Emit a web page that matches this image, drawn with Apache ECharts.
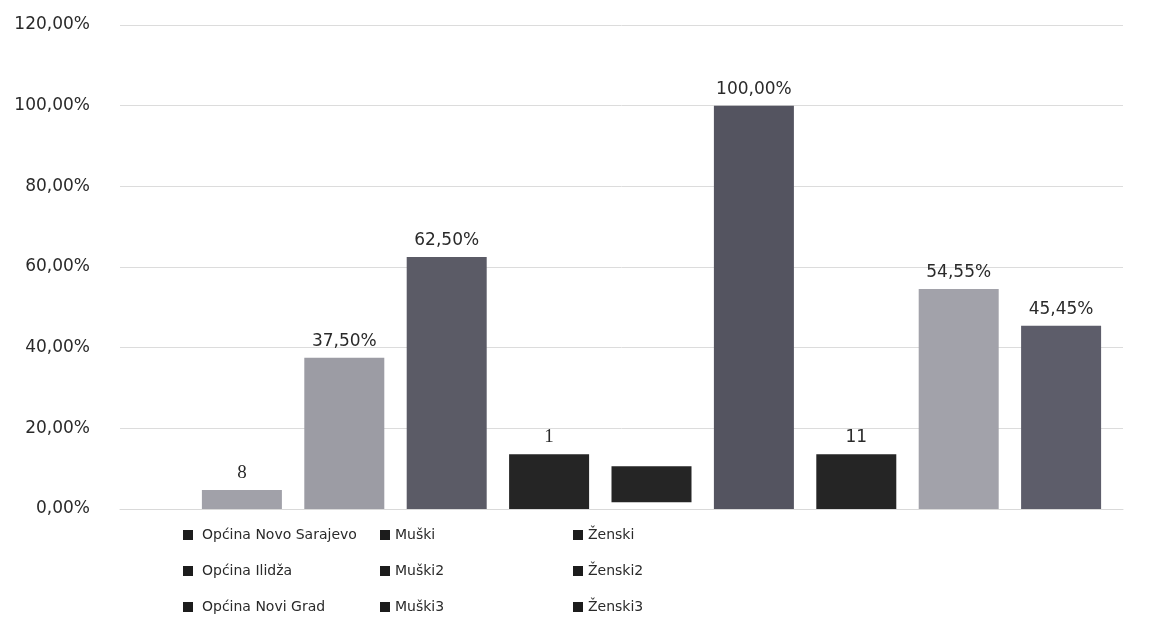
<!DOCTYPE html>
<html><head><meta charset="utf-8">
<script src="https://cdn.jsdelivr.net/npm/echarts@6/dist/echarts.min.js"></script>
<style>html,body{margin:0;padding:0;background:#fff}#c{width:1156px;height:630px}</style>
</head><body><div id="c"></div>
<script>
const seriesNames = ['Općina Novo Sarajevo','Muški','Ženski','Općina Ilidža','Muški2','Ženski2','Općina Novi Grad','Muški3','Ženski3'];
const values = [4.7, 37.5, 62.5, 13.6, 10.6, 100, 13.6, 54.55, 45.45];
const bases  = [0, 0, 0, 0, 1.7, 0, 0, 0, 0];
const labels = ['8','37,50%','62,50%','1','','100,00%','11','54,55%','45,45%'];
const colors = ['#a1a1a9','#9c9ca4','#5b5b66','#252525','#252525','#545460','#252525','#a2a2aa','#5d5d6a'];
const yTicks = [0,20,40,60,80,100,120];
const legendCols = [[0,3,6],[1,4,7],[2,5,8]];

const chart = echarts.init(document.getElementById('c'));
const series = [];
seriesNames.forEach((n,i)=>{
  if (bases[i] > 0) {
    series.push({type:'bar', name:'_base'+i, stack:'s'+i, data:[bases[i]], barWidth:80,
      itemStyle:{color:'rgba(0,0,0,0)'}, label:{show:false}, silent:true});
  }
  const serif = labels[i]==='8' || labels[i]==='1';
  series.push({type:'bar', name:n, stack:'s'+i, data:[values[i]-bases[i]], barWidth:80, barGap:'28%',
    itemStyle:{color:colors[i]},
    label:{show:labels[i]!=='', position:'top', distance:8, formatter:()=>labels[i],
      color:'#2a2a2a', fontSize: serif ? 19 : 17, fontFamily: serif ? 'Liberation Serif' : 'DejaVu Sans'}});
});
const legendX = [183, 380, 573];
const legendPad = [4, 0, 0];
const legends = legendCols.map((col,ci)=>({
  orient:'vertical', left:legendX[ci], top:527, padding:0, itemGap:20, itemWidth:10, itemHeight:10,
  icon:'rect', data: col.map(k=>({name:seriesNames[k], itemStyle:{color:'#1c1c1c'}})),
  textStyle:{fontSize:14, fontFamily:'DejaVu Sans', color:'#2a2a2a', lineHeight:16, padding:[0,0,0,legendPad[ci]]},
  selectedMode:false
}));
const yBase = {type:'value', min:yTicks[0], max:yTicks[yTicks.length-1], interval:yTicks[1]-yTicks[0],
  axisLine:{show:false}, axisTick:{show:false}};
chart.setOption({
  animation:false,
  grid:[{left:180, right:33, top:25, bottom:121},{left:120, right:33, top:25, bottom:121}],
  legend: legends,
  xAxis:[
    {type:'category', gridIndex:0, data:[''], axisLine:{show:false}, axisTick:{show:false}, axisLabel:{show:false}},
    {type:'category', gridIndex:1, data:[''], axisLine:{lineStyle:{color:'#d9d9d9'}}, axisTick:{show:false}, axisLabel:{show:false}}
  ],
  yAxis:[
    Object.assign({gridIndex:0, splitLine:{show:false}, axisLabel:{show:false}}, yBase),
    Object.assign({gridIndex:1, splitLine:{lineStyle:{color:'#dcdcdc', width:1}},
      axisLabel:{margin:30, color:'#2a2a2a', fontSize:17, fontFamily:'DejaVu Sans',
        formatter:v=>v.toFixed(2).replace('.',',')+'%'}}, yBase)
  ],
  series: series
});
</script></body></html>
